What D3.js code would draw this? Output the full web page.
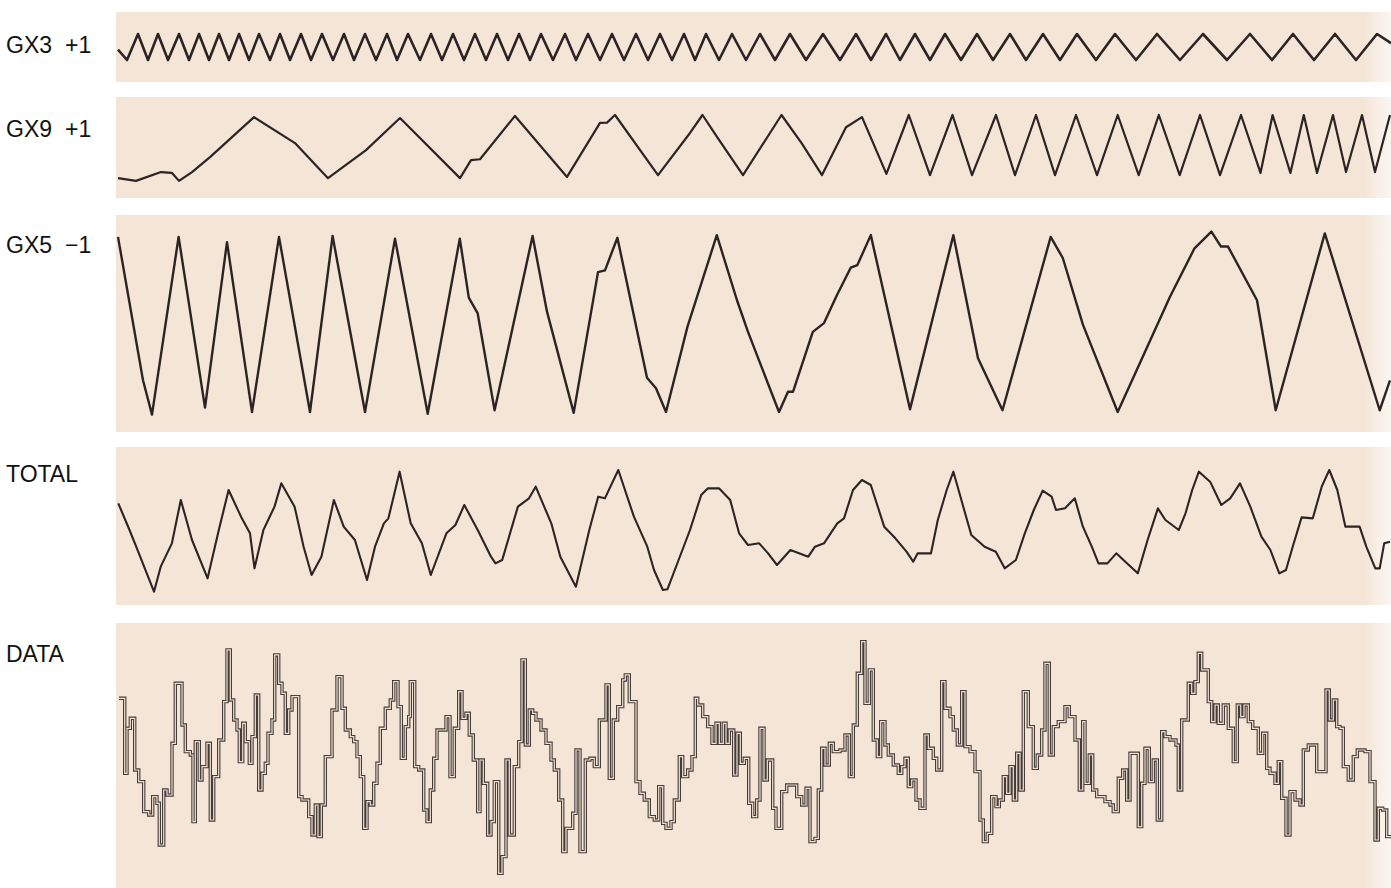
<!DOCTYPE html>
<html>
<head>
<meta charset="utf-8">
<script src="https://cdn.jsdelivr.net/npm/d3@7"></script>
<style>
  body { margin: 0; background: #fff; }
  svg { display: block; }
  text { font-family: "Liberation Sans", Arial, Helvetica, sans-serif; fill: #111; }
</style>
</head>
<body>
<div id="plot"></div>
<script>
// time axis shared by all traces (arbitrary sample units)
const timeDomain = [0, 1275];

// trace names and the sign each one is added with
const traceNames = ["GX3", "GX9", "GX5", "TOTAL", "DATA"];
const traceSigns = ["+1", "+1", "\u22121", "", ""];

// [time, value] vertices
const gx3 = [
  [2,-0.2],[11,-1],[22,1],[32,-1],[42,1],[52,-1],[63,1],[73,-1],[83,1],[93,-1],
  [103,1],[113,-1],[123,1],[133,-1],[143,1],[154,-1],[164,1],[174,-1],[185,1],[195,-1],
  [206,1],[217,-1],[228,1],[238,-1],[249,1],[260,-1],[271,1],[281,-1],[292,1],[304,-1],
  [315,1],[326,-1],[337,1],[348,-1],[359,1],[370,-1],[381,1],[392,-1],[403,1],[414,-1],
  [425,1],[437,-1],[449,1],[460,-1],[472,1],[484,-1],[496,1],[508,-1],[520,1],[532,-1],
  [544,1],[556,-1],[568,1],[579,-1],[590,1],[603,-1],[616,1],[630,-1],[644,1],[659,-1],
  [674,1],[690,-1],[707,1],[724,-1],[740,1],[755,-1],[770,1],[784,-1],[799,1],[814,-1],
  [829,1],[845,-1],[861,1],[877,-1],[894,1],[910,-1],[927,1],[944,-1],[961,1],[980,-1],
  [999,1],[1020,-1],[1041,1],[1064,-1],[1087,1],[1111,-1],[1134,1],[1156,-1],[1177,1],
  [1198,-1],[1219,1],[1240,-1],[1261,1],[1275,0.3]
];

const gx9 = [
  [2,-1.07],[20,-1.16],[45,-0.87],[56,-0.9],[63,-1.16],[76,-0.87],[94,-0.38],[138,0.93],
  [179,0.08],[212,-1.07],[250,-0.15],[284,0.9],[344,-1.07],[355,-0.48],[364,-0.45],
  [399,0.97],[451,-1.03],[484,0.74],[491,0.75],[499,1],[542,-0.97],[574,0.41],[586.5,1],
  [601,0.28],[627,-0.97],[665.5,1],[685.6,0.08],[706,-0.97],[730,0.6],[746,0.93],
  [770.4,-0.93],[792.8,1],[814,-0.97],[836.5,1],[856,-0.97],[880,1],[899,-0.97],[920,1],
  [939,-0.97],[960,1],[981,-0.97],[1001.7,1],[1022.7,-0.97],[1042.8,1],[1063.7,-0.97],
  [1084,1],[1104,-0.97],[1125,1],[1144.5,-0.9],[1156.6,1],[1174.4,-0.9],[1187.8,1],
  [1201,-0.9],[1217,1],[1230,-0.87],[1246,1],[1259,-0.87],[1274,1]
];

const gx5 = [
  [2,0.99],[27,-0.64],[36,-1.03],[62.6,0.99],[89,-0.95],[111,0.93],[136,-1],[163,0.99],
  [194,-1],[216.6,1],[249,-1],[279,0.97],[311.7,-1.02],[343.8,0.97],[352.8,0.3],
  [361.7,0.12],[378.6,-0.98],[416.6,1],[431,0.14],[457.7,-1.01],[482,0.59],[489,0.61],
  [501.4,0.98],[531,-0.61],[540,-0.73],[550,-1],[571.5,-0.03],[600.8,1.01],[621,0.27],
  [632,-0.09],[663,-1],[672,-0.77],[677,-0.77],[696.8,-0.09],[708,0.01],[721,0.33],
  [734.7,0.64],[741.4,0.67],[754.8,1.01],[794,-0.97],[837.4,1.01],[862,-0.39],
  [886.5,-0.98],[934.7,0.99],[946.8,0.75],[967,-0.01],[1001.7,-1],[1054,0.31],
  [1078.5,0.86],[1095.4,1.05],[1105,0.88],[1112,0.88],[1141,0.27],[1159.7,-0.98],
  [1208.8,1.03],[1263.7,-0.98],[1274,-0.64]
];

const total = [
  [2.3,30.5],[13.5,22.5],[20.2,17.5],[38,4],[44.7,11.5],[55.9,18.5],[64.8,31.5],[76,19.5],
  [91.6,8],[102.8,22.5],[112.6,34.5],[125,26.5],[134,21.5],[138.5,11],[147.4,22.5],
  [158.5,29.5],[165.3,36.5],[178.6,29.5],[187.6,17.5],[195.6,9],[205.4,14.5],[217.9,31.5],
  [227.7,23.5],[238.9,19.5],[251,7.5],[259,17.5],[267.9,24.5],[272.4,26],[283.6,40],
  [294.7,24.5],[305.9,18.5],[314.8,9],[330.4,21.5],[339.4,24],[348.3,30],[361.7,22.5],
  [375,14.5],[379.5,12.5],[386.2,13.5],[401.9,29.5],[413,32],[419.7,35.5],[435.3,24.5],
  [444.3,14.5],[459.9,5.5],[473.3,22.5],[482.2,32.5],[488.9,32],[502.3,40.5],[517.9,26.5],
  [531.3,17.5],[538,10.5],[546.9,4.5],[551.4,4.7],[562.6,13.5],[574,22.5],[585.2,33],
  [591.9,35],[603,35],[614.2,31.5],[623.1,21.5],[632,18],[643.2,18.5],[652.1,15.5],
  [661,12],[674.4,16.5],[692.3,14.5],[699,17.5],[708,18.5],[721.3,24.5],[728,26],
  [737,34.5],[745.9,37.5],[754.8,36],[768.2,23.5],[779.4,20],[790.5,16],[797.2,13],
  [801.7,15.5],[815,15.5],[821.8,25.5],[830.7,34.5],[837.4,40],[846.3,30.5],[855.3,21],
  [868.6,17.5],[879.8,16],[888.7,11],[899.9,13.5],[908.8,21.5],[917.8,28.5],[926.7,34.3],
  [935.6,32.5],[940,28.5],[949,29],[958.8,32],[966.9,23.5],[975.8,17.5],[982.5,12.5],
  [991.4,12.5],[1000.3,15.5],[1009.3,13],[1021.8,9.5],[1031.6,19.5],[1041.9,29],
  [1049.4,25.5],[1062.8,22.5],[1069.5,27.5],[1076.2,34.5],[1082.9,40],[1094.1,37],
  [1105.3,30],[1114.2,32],[1124,36.5],[1134.3,29.5],[1145.4,20.5],[1154.4,16.5],
  [1163.3,9.5],[1170,10.5],[1176.7,17.5],[1185.6,26.3],[1196.8,26],[1205.7,35.5],
  [1213.3,40.5],[1221.3,34.5],[1229.4,23.5],[1243.6,23.5],[1250.3,17.5],[1259.3,11],
  [1263.7,11],[1268.2,18.5],[1274,19]
];

// step levels: [start time, level]
const dataSteps = [
  [3,57.5],[8.7,35],[11,48.5],[14.3,51.5],[18.7,36],[22.7,32.5],[27.7,23.5],[32.7,22.5],
  [36.7,28],[41,26],[43.3,13.5],[47.7,30],[51,28.5],[56,44],[59.3,62],[66,49.5],[69.3,41.5],
  [74.3,40.5],[77,20.5],[79.3,44.5],[83.3,33],[86,37],[91,44],[94.3,21],[97.7,34],[102.7,45],
  [107.7,56.5],[111,72],[114.3,57],[117.7,51],[121,48],[123.3,38.5],[126.7,50],[129.3,44.5],
  [133.3,38],[136,46],[139.3,58.5],[142.7,30],[146,35],[149.3,38],[152,47],[156,51],
  [158.7,70.5],[162.7,62],[166,59],[169.3,47],[172.7,54],[176,58],[182.7,28],[186,27],
  [192.7,22],[196,16.5],[199.3,25.5],[202,16],[205.3,25.5],[209.3,40],[216,54],[221,64],
  [226,54.5],[229.3,48],[234.3,46],[237.7,44.5],[241,40],[244.3,34],[247.7,18.5],[251,26.5],
  [254.3,25.5],[257.7,32],[261,38],[264.3,48.5],[269.3,54.5],[274.3,57],[277.7,62.5],
  [282,55],[285.3,39.5],[289.3,49],[292.7,52],[294.3,62.5],[298.7,37],[302.7,36],
  [307.7,24],[311,20.5],[314.3,30],[317.7,39.5],[321,48],[330,52],[334,34],[338.3,48.5],
  [342.7,59.5],[346,51.5],[350,53],[353.3,46.5],[357.3,39],[361.7,23.5],[364,39],[367.3,32],
  [371.7,16.5],[375,20.5],[378.3,32.5],[382.7,5],[386,10],[390,39],[393.3,16.5],[398.3,37],
  [402.7,44.5],[406,69],[409.3,43.5],[413.3,54],[416.7,53],[420,51],[425,48],[430,44],
  [435,39],[438.3,36],[442.7,27],[446.7,11.5],[450,18.5],[456.7,23],[460,42],[464,11.5],
  [469.3,39],[474,39.5],[478.3,37],[483.3,51],[490,61.5],[493.3,33.5],[497.3,51],[501.7,55],
  [506.7,63],[509.3,64.5],[513.3,56.5],[520,32.5],[524,29],[528.3,27],[533.3,22],[538.3,21],
  [542.7,31],[546.7,20],[550,18.5],[555,20.5],[558.3,27],[563.3,40],[566.7,34],[571.7,36],
  [576,40],[579.3,57.5],[581.7,55.5],[586.7,52],[591.7,49],[596,44],[600,50],[603.3,44],
  [607.3,50],[610,44],[613.3,48],[617.7,34.5],[621,47],[624.3,38],[628.3,39.5],[632.7,26],
  [636.7,22],[640.7,27],[644,48.5],[648,33],[651.3,39],[656.7,24.5],[660,18.5],[665.7,29.5],
  [670.7,31.5],[680.7,28],[685.7,25.5],[690,30.5],[694,14.5],[699,15.5],[702.3,30],
  [705.7,42.5],[709,37.5],[713.3,44],[717.3,41.5],[724,42],[729,46.5],[733.3,34],
  [737.3,49.5],[741.3,65],[745.7,74.5],[749,56],[753.3,66],[757.3,45],[761.3,40],
  [764.7,50.5],[769,43.5],[772.3,40.5],[777.3,37.5],[782.3,35],[785.7,37],[789,39.5],
  [792.3,31],[795.7,33],[800,27],[804,24.5],[809,46.5],[812.3,42.5],[817.3,39.5],[820.7,36],
  [825.7,62.5],[829,54.5],[834,52],[837.3,48],[841.3,43.5],[845.7,59.5],[849,43],[854,41.5],
  [859,35.5],[864,21],[867.3,14.5],[871.3,17],[875.7,28],[880,25],[883.3,27],[887.3,34],
  [890.7,29],[894,37],[897.3,27],[900.7,41],[904,30],[907.3,59.5],[912.3,49],[917.3,36.5],
  [921.3,40.5],[925.7,48],[929,68],[933.3,40.5],[937.3,49],[942.3,50.5],[949,55],[953.3,52],
  [959,45],[963.3,30],[966.7,50.5],[969,32],[973.3,40.5],[976.7,30],[980.7,28],[989,26.5],
  [994,25.5],[997.3,23.5],[1002.3,33.5],[1006.7,36],[1010.7,27],[1014,41],[1022.3,19],
  [1025.7,32],[1029,42.5],[1033.3,32.5],[1037.3,39],[1041.3,21],[1045.7,47.5],[1049,46],
  [1054,45],[1060,43.5],[1062.3,30],[1065.7,51],[1072.3,62],[1075.7,59],[1079,62.5],
  [1082.3,71],[1085.7,66],[1092.3,56.5],[1095.7,50.5],[1099,55.5],[1102.3,50],[1107.3,55.5],
  [1112.3,48.5],[1117.3,38.5],[1121.3,55.5],[1124.7,52],[1128,55.5],[1132.3,50.5],
  [1136.7,48.5],[1142.3,41],[1146.7,47],[1150.7,36.5],[1154,35],[1159,32],[1162.3,38.5],
  [1165.7,27.5],[1170,16.5],[1174,29.5],[1179,27],[1184,25.5],[1187.3,42],[1192.3,43.5],
  [1200.7,35.5],[1210,60],[1213.3,51],[1217.3,57],[1220.7,49],[1224,48.5],[1227.3,37],
  [1232.3,33],[1237.3,40],[1241.3,42],[1249,41.5],[1254,32.5],[1259,15],[1262.3,24.5],
  [1266.7,24],[1270.7,16],[1275,16]
];

const width = 1391;
const height = 888;

const svg = d3.select("#plot")
  .append("svg")
  .attr("width", width)
  .attr("height", height);

// lighter strip at the right edge of the scanned strips
const grad = svg.append("defs").append("linearGradient")
  .attr("id", "fade")
  .attr("gradientUnits", "userSpaceOnUse")
  .attr("x1", 0).attr("x2", width).attr("y1", 0).attr("y2", 0);
grad.append("stop").attr("offset", 0).attr("stop-color", "#f4e5d7");
grad.append("stop").attr("offset", 1365 / width).attr("stop-color", "#f4e5d7");
grad.append("stop").attr("offset", 1378 / width).attr("stop-color", "#f8efe6");
grad.append("stop").attr("offset", 1).attr("stop-color", "#fbf6f1");

const x = d3.scaleLinear().domain(timeDomain).range([116, 1391]);

// layout for each strip
const panels = [
  {series: gx3, top: 12, bottom: 82, domain: [-1, 1], range: [60, 34], base: 53, stroke: 2.6},
  {series: gx9, top: 97, bottom: 198, domain: [-1, 1], range: [176, 115], base: 137, stroke: 2.2},
  {series: gx5, top: 215, bottom: 432, domain: [-1, 1], range: [412, 236], base: 253, stroke: 2.4},
  {series: total, top: 447, bottom: 605, domain: [0, 47.4], range: [605, 447], base: 482, stroke: 2.1},
  {series: dataSteps, top: 623, bottom: 888, domain: [0, 80], range: [890, 623.3], base: 662, step: true}
];

panels.forEach((p, i) => {
  const g = svg.append("g");

  g.append("rect")
    .attr("x", 116)
    .attr("y", p.top)
    .attr("width", width - 116)
    .attr("height", p.bottom - p.top)
    .attr("fill", "url(#fade)");

  const y = d3.scaleLinear().domain(p.domain).range(p.range);

  const line = d3.line()
    .x(d => x(d[0]))
    .y(d => y(d[1]))
    .curve(p.step ? d3.curveStepAfter : d3.curveLinear);

  if (p.step) {
    // the data trace is printed as a hollow (outlined) line
    g.append("path")
      .datum(p.series)
      .attr("fill", "none")
      .attr("stroke", "#463c3a")
      .attr("stroke-width", 3.4)
      .attr("stroke-linejoin", "miter")
      .attr("d", line);
    g.append("path")
      .datum(p.series)
      .attr("fill", "none")
      .attr("stroke", "#f1e2d3")
      .attr("stroke-width", 1.2)
      .attr("d", line);
  } else {
    g.append("path")
      .datum(p.series)
      .attr("fill", "none")
      .attr("stroke", "#2c2424")
      .attr("stroke-width", p.stroke)
      .attr("stroke-linejoin", "round")
      .attr("d", line);
  }

  // label
  const label = svg.append("text")
    .attr("x", 6)
    .attr("y", p.base)
    .attr("font-size", 23)
    .text(traceNames[i] + (traceSigns[i] ? " " : ""));
  if (traceSigns[i]) {
    label.append("tspan")
      .attr("x", 65)
      .text(traceSigns[i]);
  }
});
</script>
</body>
</html>
